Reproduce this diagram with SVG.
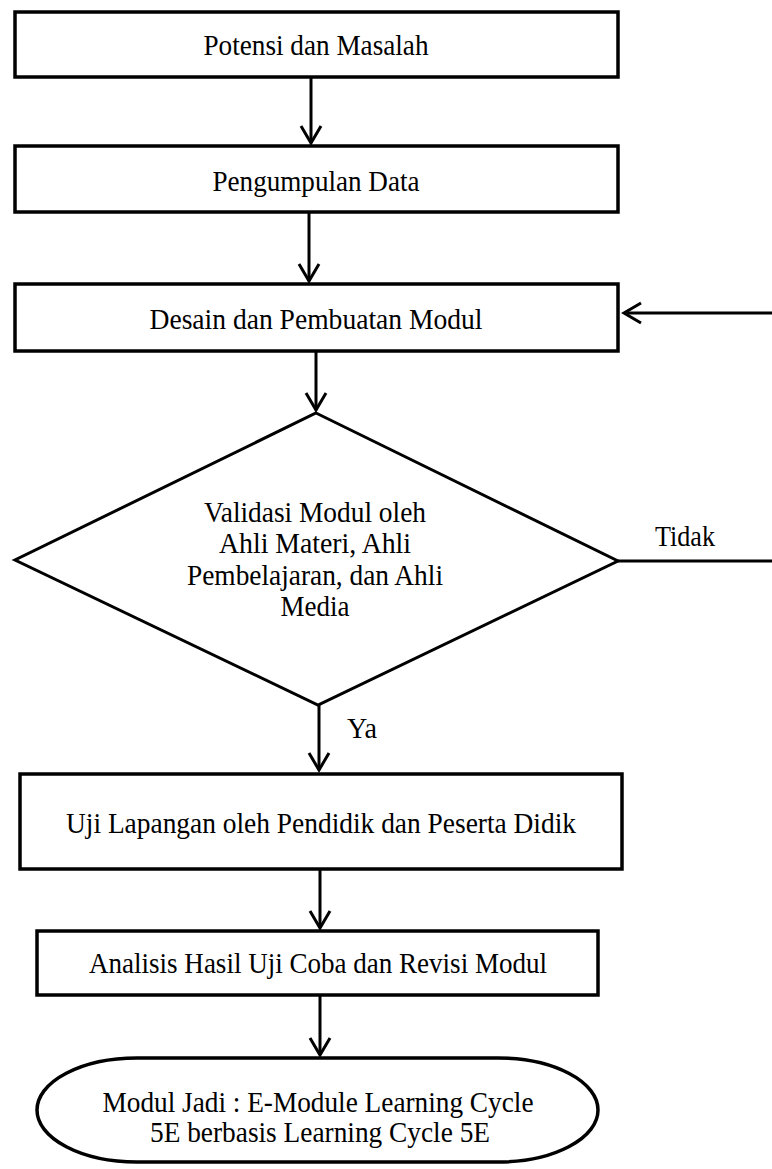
<svg xmlns="http://www.w3.org/2000/svg" width="772" height="1169" viewBox="0 0 772 1169">
<style>
.box{fill:#fff;stroke:#000;stroke-width:3.5}
.lbl{font-family:"Liberation Serif","Times New Roman",serif;font-size:30px;fill:#000;text-anchor:middle}
.edge{fill:none;stroke:#000;stroke-width:3}
</style>
<defs>
<marker id="ah" markerUnits="userSpaceOnUse" markerWidth="24" markerHeight="24" viewBox="-20 -12 24 24" refX="0" refY="0" orient="auto">
<path d="M-17,-10 L0,0 L-17,10" fill="none" stroke="#000" stroke-width="3"/>
</marker>
</defs>
<rect width="772" height="1169" fill="#fff"/>
<g id="connectors">
<line class="edge" x1="311" y1="77" x2="311" y2="143" marker-end="url(#ah)"/>
<line class="edge" x1="309" y1="212" x2="309" y2="281" marker-end="url(#ah)"/>
<line class="edge" x1="316" y1="351" x2="316" y2="410" marker-end="url(#ah)"/>
<polyline class="edge" points="618,561 772,561"/>
<line class="edge" x1="772" y1="313" x2="624" y2="313" marker-end="url(#ah)"/>
<line class="edge" x1="319" y1="705" x2="319" y2="770" marker-end="url(#ah)"/>
<line class="edge" x1="320" y1="870" x2="320" y2="928" marker-end="url(#ah)"/>
<line class="edge" x1="320" y1="995" x2="320" y2="1055" marker-end="url(#ah)"/>
<text class="lbl" x="685" y="546" textLength="60" lengthAdjust="spacingAndGlyphs">Tidak</text>
<text class="lbl" x="347" y="738" style="text-anchor:start" textLength="30" lengthAdjust="spacingAndGlyphs">Ya</text>
</g>
<g id="n1">
<rect class="box" x="15" y="12" width="603" height="65"/>
<text class="lbl" x="316" y="55" textLength="225" lengthAdjust="spacingAndGlyphs">Potensi dan Masalah</text>
</g>
<g id="n2">
<rect class="box" x="15" y="146" width="603" height="66"/>
<text class="lbl" x="316" y="191" textLength="207" lengthAdjust="spacingAndGlyphs">Pengumpulan Data</text>
</g>
<g id="n3">
<rect class="box" x="15" y="284" width="603" height="67"/>
<text class="lbl" x="316" y="329" textLength="333" lengthAdjust="spacingAndGlyphs">Desain dan Pembuatan Modul</text>
</g>
<g id="n4">
<polygon class="box" points="316,413 618,561 318,705 15,560" style="stroke-width:3"/>
<text class="lbl" x="315" y="522" textLength="222" lengthAdjust="spacingAndGlyphs">Validasi Modul oleh</text>
<text class="lbl" x="315" y="553" textLength="192" lengthAdjust="spacingAndGlyphs">Ahli Materi, Ahli</text>
<text class="lbl" x="315" y="585" textLength="256" lengthAdjust="spacingAndGlyphs">Pembelajaran, dan Ahli</text>
<text class="lbl" x="315" y="616" textLength="69" lengthAdjust="spacingAndGlyphs">Media</text>
</g>
<g id="n5">
<rect class="box" x="20" y="774" width="602" height="95"/>
<text class="lbl" x="321" y="833" textLength="510" lengthAdjust="spacingAndGlyphs">Uji Lapangan oleh Pendidik dan Peserta Didik</text>
</g>
<g id="n6">
<rect class="box" x="37" y="931" width="561" height="64"/>
<text class="lbl" x="318" y="973" textLength="458" lengthAdjust="spacingAndGlyphs">Analisis Hasil Uji Coba dan Revisi Modul</text>
</g>
<g id="n7">
<rect class="box" x="37" y="1058" width="561" height="104" rx="100" ry="52"/>
<text class="lbl" x="318" y="1112" textLength="431" lengthAdjust="spacingAndGlyphs">Modul Jadi : E-Module Learning Cycle</text>
<text class="lbl" x="320" y="1142" textLength="340" lengthAdjust="spacingAndGlyphs">5E berbasis Learning Cycle 5E</text>
</g>
</svg>
